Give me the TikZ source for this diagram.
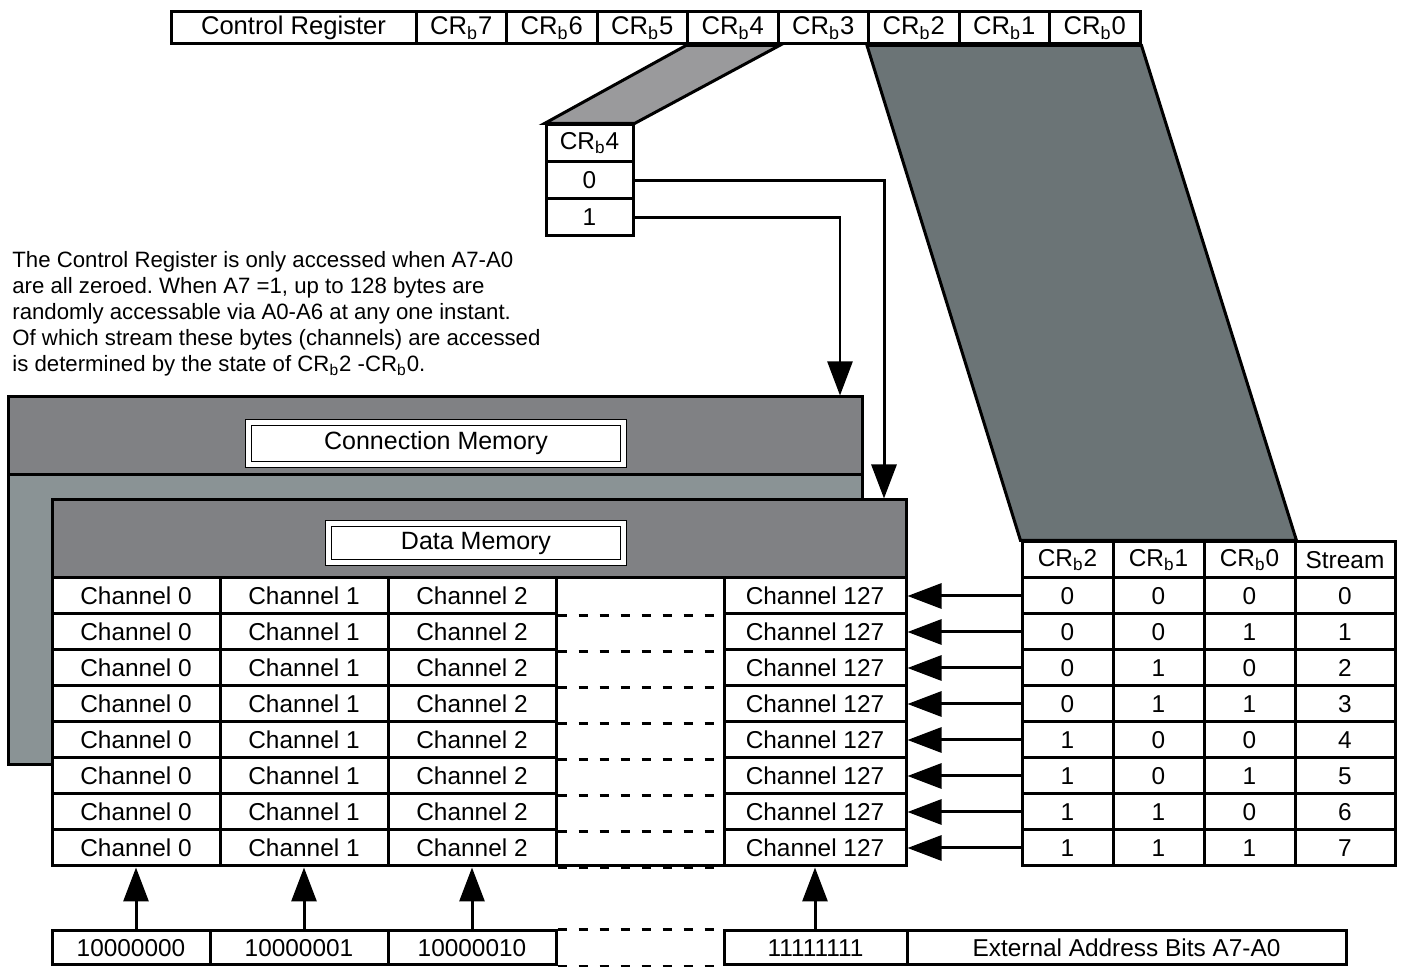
\documentclass[tikz,border=0pt]{standalone}
\usepackage{fontspec}
\setmainfont{Liberation Sans}
\usepackage{xcolor}
\usetikzlibrary{arrows.meta, calc}
\frenchspacing

\definecolor{headgray}{HTML}{808184}
\definecolor{bodygray}{HTML}{8A9395}
\definecolor{wedgegray}{HTML}{9A9A9C}
\definecolor{slategray}{HTML}{6B7476}

\tikzset{
    cell/.style={draw, line width=1.5pt, fill=white, inner sep=0pt, minimum height=18pt, font=\fontsize{12.2}{14}\selectfont},
    regcell/.style={cell, minimum height=16pt, font=\fontsize{12.8}{14}\selectfont},
    memblock/.style={draw, line width=1.5pt, inner sep=0pt, minimum width=427pt},
    memlabel/.style={draw, line width=0.6pt, double=white, double distance=2.6pt, fill=white, inner sep=0pt, font=\fontsize{12.5}{15}\selectfont},
    arr/.style={line width=1.5pt, -{Triangle[length=17pt, width=12.5pt]}},
    gapline/.style={line width=1.5pt, dash pattern=on 4.5pt off 6pt},
}

\begin{document}
\begin{tikzpicture}[x=0.5pt, y=-0.5pt]
    \useasboundingbox (0,0) rectangle (1405,967);

    % Control register
    \node[regcell, minimum width=122.5pt] (creg) at (293.5,28) {Control Register};
    \foreach \b [count=\k from 0] in {7,...,0}
        \node[regcell, minimum width=45.25pt] (cr\b) at (461.25+90.5*\k,28) {CR\textsubscript{b}\b};

    % CRb4 select table
    \node[cell, minimum width=43.5pt, minimum height=18.5pt] (sel) at (589.5,143.5) {CR\textsubscript{b}4};
    \node[cell, minimum width=43.5pt, minimum height=18.5pt] (sel0) at (589.5,180.5) {0};
    \node[cell, minimum width=43.5pt, minimum height=18.5pt] (sel1) at (589.5,217.5) {1};
    \filldraw[fill=wedgegray, line width=1.5pt] (cr4.south west) -- (cr4.south east) -- (sel.north east) -- (sel.north west) -- cycle;

    % Stream table
    \foreach \n/\x in {2/1067.5, 1/1158.5, 0/1249.5}
        \node[cell, minimum width=45.5pt] (hd\n) at (\x,560) {CR\textsubscript{b}\n};
    \node[cell, minimum width=50pt] (hds) at (1345,560) {Stream};
    \foreach \s/\p/\q/\r in {0/0/0/0, 1/0/0/1, 2/0/1/0, 3/0/1/1, 4/1/0/0, 5/1/0/1, 6/1/1/0, 7/1/1/1} {
        \node[cell, minimum width=45.5pt] (tb2r\s) at (1067.5,596+36*\s) {\p};
        \node[cell, minimum width=45.5pt] (tb1r\s) at (1158.5,596+36*\s) {\q};
        \node[cell, minimum width=45.5pt] (tb0r\s) at (1249.5,596+36*\s) {\r};
        \node[cell, minimum width=50pt] (tbsr\s) at (1345,596+36*\s) {\s};
    }
    \filldraw[fill=slategray, line width=1.5pt] (cr2.south west) -- (cr0.south east) -- (hd0.north east) -- (hd2.north west) -- cycle;

    % Connection memory
    \node[memblock, fill=bodygray, minimum height=184pt] (cmem) at (435,581) {};
    \node[memblock, fill=headgray, minimum height=39pt] (cmhead) at (435,436) {};
    \node[memlabel, minimum width=187.5pt, minimum height=21pt] (cmlabel) at (436,443.5) {Connection Memory};

    % Data memory
    \node[memblock, fill=white, minimum height=183pt] (dmem) at (479,683) {};
    \node[memblock, fill=headgray, minimum height=39pt] (dmhead) at (479,539) {};
    \node[memlabel, minimum width=147.5pt, minimum height=19.5pt] (dmlabel) at (476,543) {Data Memory};

    % Channel rows
    \foreach \i in {0,...,7} {
        \node[cell, minimum width=84pt] (ch0r\i) at (136,596+36*\i) {Channel 0};
        \node[cell, minimum width=84pt] (ch1r\i) at (304,596+36*\i) {Channel 1};
        \node[cell, minimum width=84pt] (ch2r\i) at (472,596+36*\i) {Channel 2};
        \node[cell, minimum width=91pt] (ch127r\i) at (815,596+36*\i) {Channel 127};
        \draw[gapline] (ch2r\i.south east) -- (ch127r\i.south west);
        \draw[arr] (tb2r\i.west) -- (ch127r\i.east);
    }

    % CRb4 select lines
    \coordinate (turn0) at (884,0);
    \coordinate (turn1) at (840,0);
    \draw[arr] (sel0.east) -| (turn0 |- dmem.north);
    \draw[arr, line width=1.2pt] (sel1.east) -| (turn1 |- cmem.north);

    % External address
    \node[cell, minimum width=79pt, minimum height=17pt] (a0) at (131,948) {10000000};
    \node[cell, minimum width=89pt, minimum height=17pt] (a1) at (299,948) {10000001};
    \node[cell, minimum width=84pt, minimum height=17pt] (a2) at (472,948) {10000010};
    \node[cell, minimum width=91.5pt, minimum height=17pt] (a127) at (815.5,948) {11111111};
    \node[cell, minimum width=219.5pt, minimum height=17pt] (ext) at (1126.5,948) {External Address Bits A7-A0};
    \draw[gapline] (a2.north east) -- (a127.north west);
    \draw[gapline] (a2.south east) -- (a127.south west);
    \foreach \a/\c in {a0/ch0, a1/ch1, a2/ch2, a127/ch127}
        \draw[arr] (\a.north -| \c r7.south) -- (\c r7.south);

    % Note
    \node[anchor=north west, align=left, inner sep=0pt, font=\fontsize{11.1}{13}\selectfont] (note) at (12,251)
        {The Control Register is only accessed when A7-A0\\
         are all zeroed. When A7 =1, up to 128 bytes are\\
         randomly accessable via A0-A6 at any one instant.\\
         Of which stream these bytes (channels) are accessed\\
         is determined by the state of CR\textsubscript{b}2 -CR\textsubscript{b}0.};
\end{tikzpicture}
\end{document}
